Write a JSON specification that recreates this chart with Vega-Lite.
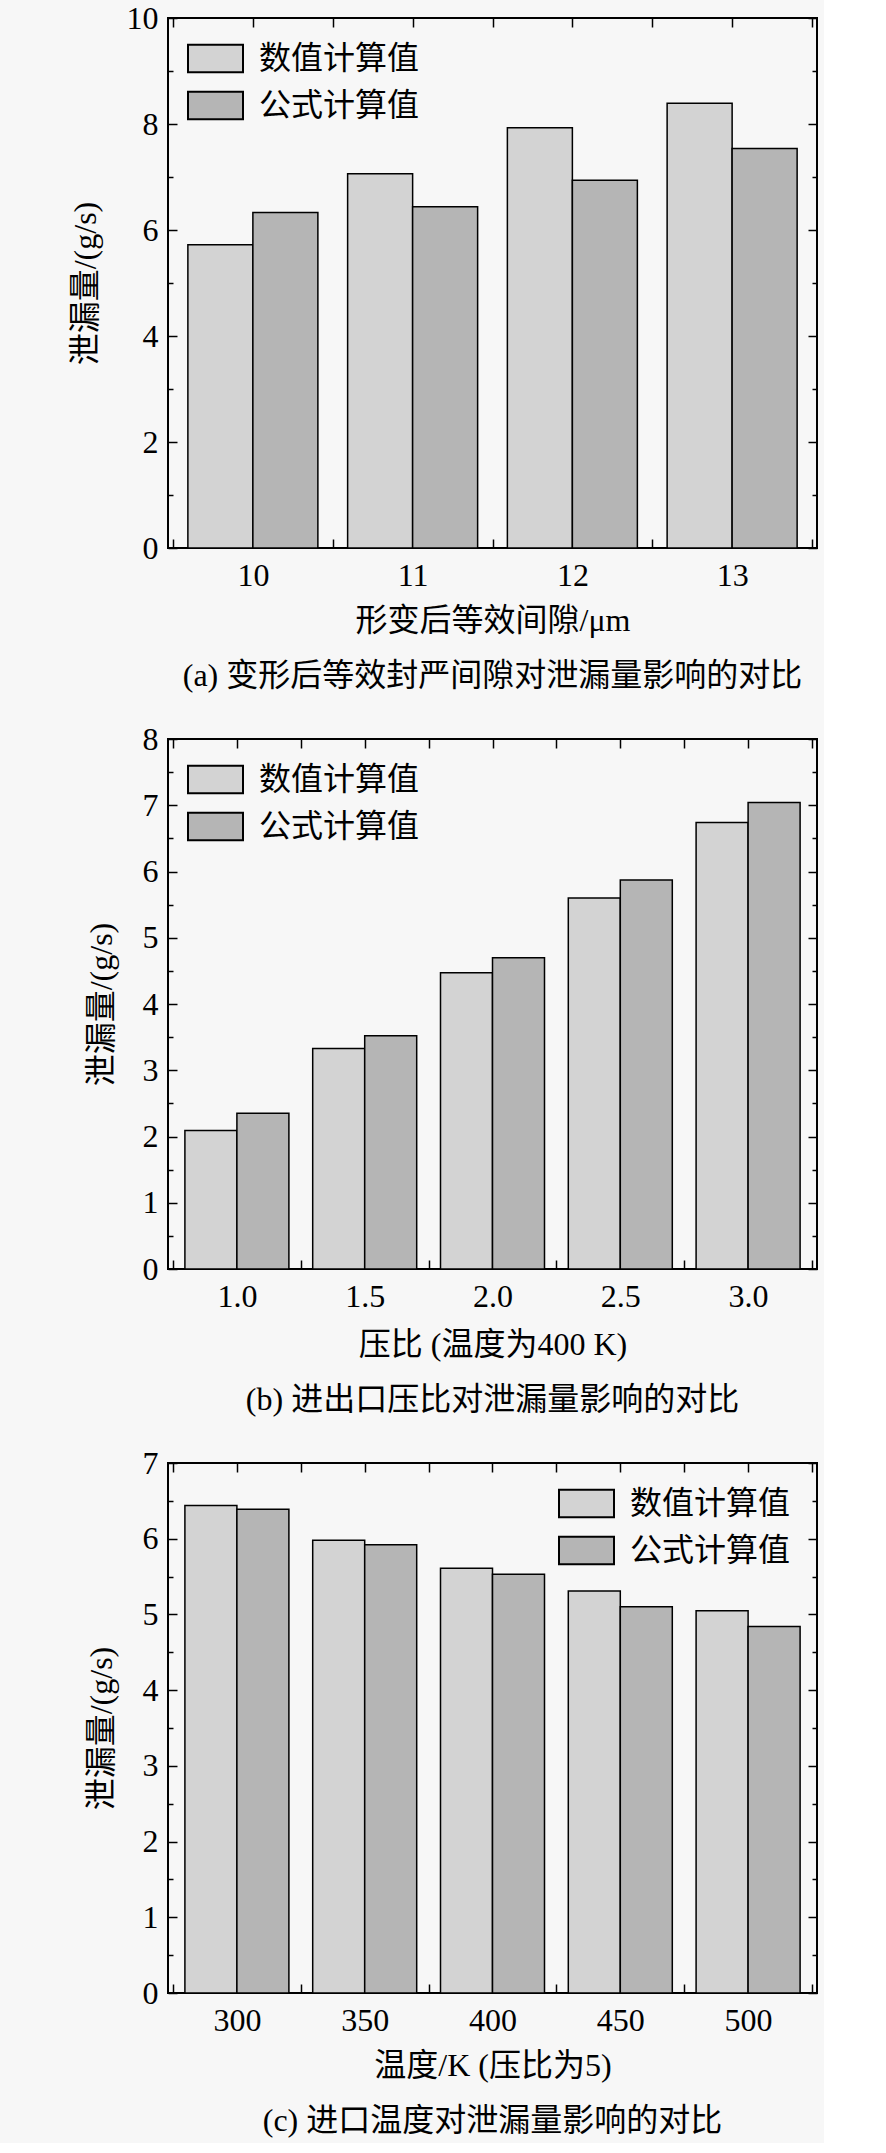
{
  "$schema": "https://vega.github.io/schema/vega-lite/v6.json",
  "background": "#f7f7f7",
  "padding": {"left": 68, "top": 1, "right": 5, "bottom": 5},
  "spacing": 29,
  "resolve": {"scale": {"fill": "independent"}, "legend": {"fill": "independent"}},
  "vconcat": [
    {
      "width": 649,
      "height": 530,
      "data": {
        "values": [
          {"gap": 10, "series": "数值计算值", "value": 5.72},
          {"gap": 11, "series": "数值计算值", "value": 7.06},
          {"gap": 12, "series": "数值计算值", "value": 7.93},
          {"gap": 13, "series": "数值计算值", "value": 8.39},
          {"gap": 10, "series": "公式计算值", "value": 6.33},
          {"gap": 11, "series": "公式计算值", "value": 6.44},
          {"gap": 12, "series": "公式计算值", "value": 6.94},
          {"gap": 13, "series": "公式计算值", "value": 7.54}
        ]
      },
      "title": {"text": "(a) 变形后等效封严间隙对泄漏量影响的对比", "orient": "bottom", "offset": 25},
      "layer": [
        {
          "transform": [{"filter": "datum.series === '数值计算值'"}],
          "mark": {"type": "bar", "width": 65, "xOffset": -32.5, "stroke": "#000", "strokeWidth": 1.5},
          "encoding": {
            "x": {"field": "gap", "type": "quantitative", "scale": {"domain": [9.5, 13.5], "nice": false, "zero": false},
              "axis": {"orient": "bottom", "values": [9.5, 10, 10.5, 11, 11.5, 12, 12.5, 13, 13.5], "format": ".1f",
                "labelExpr": "datum.value % 1 === 0 ? format(datum.value, 'd') : ''", "title": "形变后等效间隙/μm"}},
            "y": {"field": "value", "type": "quantitative", "stack": null, "scale": {"domain": [0, 10], "nice": false},
              "axis": {"orient": "left", "values": [0, 2, 4, 6, 8, 10], "format": "d", "title": "泄漏量/(g/s)"}},
            "fill": {"field": "series", "type": "nominal",
              "scale": {"domain": ["数值计算值", "公式计算值"], "range": ["#d3d3d3", "#b5b5b5"]},
              "legend": {"orient": "none", "legendX": 19, "legendY": 12}}
          }
        },
        {
          "transform": [{"filter": "datum.series === '公式计算值'"}],
          "mark": {"type": "bar", "width": 65, "xOffset": 32.5, "stroke": "#000", "strokeWidth": 1.5},
          "encoding": {
            "x": {"field": "gap", "type": "quantitative",
              "axis": {"orient": "top", "values": [9.5, 10, 10.5, 11, 11.5, 12, 12.5, 13, 13.5], "labels": false, "title": null}},
            "y": {"field": "value", "type": "quantitative", "stack": null,
              "axis": {"orient": "right", "values": [0, 2, 4, 6, 8, 10], "labels": false, "title": null}},
            "fill": {"field": "series", "type": "nominal"}
          }
        },
        {
          "mark": {"type": "bar", "opacity": 0},
          "encoding": {
            "y": {"field": "value", "type": "quantitative", "stack": null,
              "axis": {"orient": "left", "values": [1, 3, 5, 7, 9], "labels": false, "title": null, "tickSize": -5}}
          }
        },
        {
          "mark": {"type": "bar", "opacity": 0},
          "encoding": {
            "y": {"field": "value", "type": "quantitative", "stack": null,
              "axis": {"orient": "right", "values": [1, 3, 5, 7, 9], "labels": false, "title": null, "tickSize": -5}}
          }
        }
      ],
      "resolve": {"axis": {"x": "independent", "y": "independent"}}
    },
    {
      "width": 649,
      "height": 530,
      "data": {
        "values": [
          {"ratio": 1.0, "series": "数值计算值", "value": 2.09},
          {"ratio": 1.5, "series": "数值计算值", "value": 3.33},
          {"ratio": 2.0, "series": "数值计算值", "value": 4.47},
          {"ratio": 2.5, "series": "数值计算值", "value": 5.6},
          {"ratio": 3.0, "series": "数值计算值", "value": 6.74},
          {"ratio": 1.0, "series": "公式计算值", "value": 2.35},
          {"ratio": 1.5, "series": "公式计算值", "value": 3.52},
          {"ratio": 2.0, "series": "公式计算值", "value": 4.7},
          {"ratio": 2.5, "series": "公式计算值", "value": 5.87},
          {"ratio": 3.0, "series": "公式计算值", "value": 7.04}
        ]
      },
      "title": {"text": "(b) 进出口压比对泄漏量影响的对比", "orient": "bottom", "offset": 25},
      "layer": [
        {
          "transform": [{"filter": "datum.series === '数值计算值'"}],
          "mark": {"type": "bar", "width": 52, "xOffset": -26, "stroke": "#000", "strokeWidth": 1.5},
          "encoding": {
            "x": {"field": "ratio", "type": "quantitative", "scale": {"domain": [0.75, 3.25], "nice": false, "zero": false},
              "axis": {"orient": "bottom", "values": [0.75, 1, 1.25, 1.5, 1.75, 2, 2.25, 2.5, 2.75, 3, 3.25], "format": ".1f",
                "labelExpr": "(datum.value * 2) % 1 === 0 ? datum.label : ''", "title": "压比 (温度为400 K)", "titlePadding": 17}},
            "y": {"field": "value", "type": "quantitative", "stack": null, "scale": {"domain": [0, 8], "nice": false},
              "axis": {"orient": "left", "values": [0, 1, 2, 3, 4, 5, 6, 7, 8], "format": "d", "title": "泄漏量/(g/s)"}},
            "fill": {"field": "series", "type": "nominal",
              "scale": {"domain": ["数值计算值", "公式计算值"], "range": ["#d3d3d3", "#b5b5b5"]},
              "legend": {"orient": "none", "legendX": 19, "legendY": 12}}
          }
        },
        {
          "transform": [{"filter": "datum.series === '公式计算值'"}],
          "mark": {"type": "bar", "width": 52, "xOffset": 26, "stroke": "#000", "strokeWidth": 1.5},
          "encoding": {
            "x": {"field": "ratio", "type": "quantitative",
              "axis": {"orient": "top", "values": [0.75, 1, 1.25, 1.5, 1.75, 2, 2.25, 2.5, 2.75, 3, 3.25], "labels": false, "title": null}},
            "y": {"field": "value", "type": "quantitative", "stack": null,
              "axis": {"orient": "right", "values": [0, 1, 2, 3, 4, 5, 6, 7, 8], "labels": false, "title": null}},
            "fill": {"field": "series", "type": "nominal"}
          }
        },
        {
          "mark": {"type": "bar", "opacity": 0},
          "encoding": {
            "y": {"field": "value", "type": "quantitative", "stack": null,
              "axis": {"orient": "left", "values": [0.5, 1.5, 2.5, 3.5, 4.5, 5.5, 6.5, 7.5], "labels": false, "title": null, "tickSize": -5}}
          }
        },
        {
          "mark": {"type": "bar", "opacity": 0},
          "encoding": {
            "y": {"field": "value", "type": "quantitative", "stack": null,
              "axis": {"orient": "right", "values": [0.5, 1.5, 2.5, 3.5, 4.5, 5.5, 6.5, 7.5], "labels": false, "title": null, "tickSize": -5}}
          }
        }
      ],
      "resolve": {"axis": {"x": "independent", "y": "independent"}}
    },
    {
      "width": 649,
      "height": 530,
      "data": {
        "values": [
          {"temp": 300, "series": "数值计算值", "value": 6.44},
          {"temp": 350, "series": "数值计算值", "value": 5.98},
          {"temp": 400, "series": "数值计算值", "value": 5.61},
          {"temp": 450, "series": "数值计算值", "value": 5.31},
          {"temp": 500, "series": "数值计算值", "value": 5.05},
          {"temp": 300, "series": "公式计算值", "value": 6.39},
          {"temp": 350, "series": "公式计算值", "value": 5.92},
          {"temp": 400, "series": "公式计算值", "value": 5.53},
          {"temp": 450, "series": "公式计算值", "value": 5.1},
          {"temp": 500, "series": "公式计算值", "value": 4.84}
        ]
      },
      "title": {"text": "(c) 进口温度对泄漏量影响的对比", "orient": "bottom", "offset": 25},
      "layer": [
        {
          "transform": [{"filter": "datum.series === '数值计算值'"}],
          "mark": {"type": "bar", "width": 52, "xOffset": -26, "stroke": "#000", "strokeWidth": 1.5},
          "encoding": {
            "x": {"field": "temp", "type": "quantitative", "scale": {"domain": [275, 525], "nice": false, "zero": false},
              "axis": {"orient": "bottom", "values": [275, 300, 325, 350, 375, 400, 425, 450, 475, 500, 525], "format": "d",
                "labelExpr": "datum.value % 50 === 0 ? datum.label : ''", "title": "温度/K (压比为5)"}},
            "y": {"field": "value", "type": "quantitative", "stack": null, "scale": {"domain": [0, 7], "nice": false},
              "axis": {"orient": "left", "values": [0, 1, 2, 3, 4, 5, 6, 7], "format": "d", "title": "泄漏量/(g/s)"}},
            "fill": {"field": "series", "type": "nominal",
              "scale": {"domain": ["数值计算值", "公式计算值"], "range": ["#d3d3d3", "#b5b5b5"]},
              "legend": {"orient": "none", "legendX": 390, "legendY": 12}}
          }
        },
        {
          "transform": [{"filter": "datum.series === '公式计算值'"}],
          "mark": {"type": "bar", "width": 52, "xOffset": 26, "stroke": "#000", "strokeWidth": 1.5},
          "encoding": {
            "x": {"field": "temp", "type": "quantitative",
              "axis": {"orient": "top", "values": [275, 300, 325, 350, 375, 400, 425, 450, 475, 500, 525], "labels": false, "title": null}},
            "y": {"field": "value", "type": "quantitative", "stack": null,
              "axis": {"orient": "right", "values": [0, 1, 2, 3, 4, 5, 6, 7], "labels": false, "title": null}},
            "fill": {"field": "series", "type": "nominal"}
          }
        },
        {
          "mark": {"type": "bar", "opacity": 0},
          "encoding": {
            "y": {"field": "value", "type": "quantitative", "stack": null,
              "axis": {"orient": "left", "values": [0.5, 1.5, 2.5, 3.5, 4.5, 5.5, 6.5], "labels": false, "title": null, "tickSize": -5}}
          }
        },
        {
          "mark": {"type": "bar", "opacity": 0},
          "encoding": {
            "y": {"field": "value", "type": "quantitative", "stack": null,
              "axis": {"orient": "right", "values": [0.5, 1.5, 2.5, 3.5, 4.5, 5.5, 6.5], "labels": false, "title": null, "tickSize": -5}}
          }
        }
      ],
      "resolve": {"axis": {"x": "independent", "y": "independent"}}
    }
  ],
  "config": {
    "font": "Liberation Serif, Noto Sans CJK SC",
    "view": {"stroke": "#000", "strokeWidth": 2},
    "axis": {
      "domain": false,
      "grid": false,
      "labelOverlap": false,
      "tickColor": "#000",
      "tickWidth": 1.5,
      "tickSize": -9,
      "labelFont": "Liberation Serif, Noto Sans CJK SC",
      "labelFontSize": 32,
      "labelColor": "#000",
      "labelPadding": 21,
      "titleFont": "Liberation Serif, Noto Sans CJK SC",
      "titleFontSize": 32,
      "titleFontWeight": "normal",
      "titleColor": "#000",
      "titlePadding": 14
    },
    "axisY": {"titlePadding": 24, "labelPadding": 19},
    "legend": {
      "title": null,
      "symbolType": "M-1,-0.5H1V0.5H-1Z",
      "symbolSize": 3025,
      "symbolStrokeColor": "#000",
      "symbolStrokeWidth": 2,
      "symbolOpacity": 1,
      "labelFont": "Liberation Serif, Noto Sans CJK SC",
      "labelFontSize": 32,
      "labelColor": "#000",
      "labelOffset": 15,
      "labelLimit": 400,
      "rowPadding": -12,
      "padding": 0
    },
    "title": {
      "font": "Liberation Serif, Noto Sans CJK SC",
      "fontSize": 32,
      "fontWeight": "normal",
      "color": "#000",
      "anchor": "middle"
    }
  }
}
